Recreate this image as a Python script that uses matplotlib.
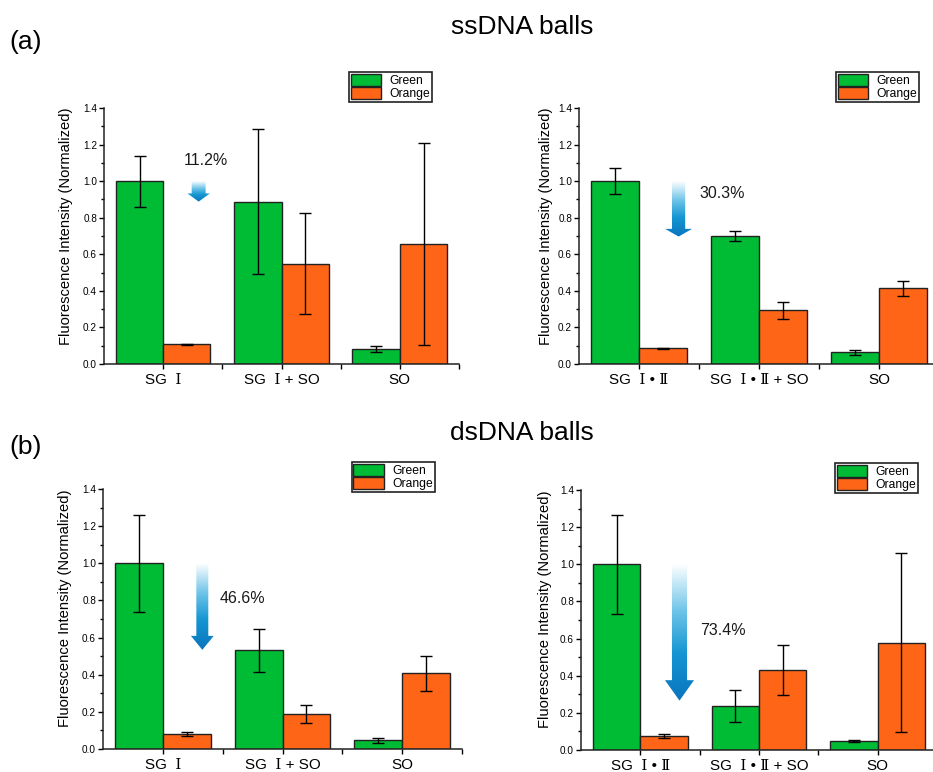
import numpy as np
import matplotlib
matplotlib.use("Agg")
import matplotlib.pyplot as plt
from matplotlib.patches import Polygon
from matplotlib.colors import LinearSegmentedColormap
from matplotlib.ticker import MultipleLocator, FixedLocator, FormatStrFormatter

plt.rcParams['font.family'] = ['Liberation Sans', 'DejaVu Serif', 'Noto Sans CJK SC']

# ---------------- data ----------------
labels_single = ["SG  Ⅰ", "SG  Ⅰ + SO", "SO"]
labels_double = ["SG  Ⅰ • Ⅱ", "SG  Ⅰ • Ⅱ + SO", "SO"]
series_names = ["Green", "Orange"]

ss_single_green = [1.0, 0.887, 0.082]
ss_single_green_err = [0.14, 0.396, 0.015]
ss_single_orange = [0.107, 0.548, 0.657]
ss_single_orange_err = [0.004, 0.277, 0.554]

ss_double_green = [1.0, 0.700, 0.063]
ss_double_green_err = [0.07, 0.027, 0.012]
ss_double_orange = [0.085, 0.293, 0.414]
ss_double_orange_err = [0.002, 0.045, 0.042]

ds_single_green = [1.0, 0.531, 0.047]
ds_single_green_err = [0.26, 0.115, 0.013]
ds_single_orange = [0.081, 0.19, 0.407]
ds_single_orange_err = [0.011, 0.049, 0.096]

ds_double_green = [1.0, 0.237, 0.05]
ds_double_green_err = [0.265, 0.087, 0.006]
ds_double_orange = [0.075, 0.433, 0.578]
ds_double_orange_err = [0.011, 0.135, 0.482]

decrease_pct = [11.2, 30.3, 46.6, 73.4]

GREEN = "#00BB34"
ORANGE = "#FF6516"

# --------------- layout ---------------
W, H = 933, 772
fig = plt.figure(figsize=(W / 100, H / 100), dpi=100)

def px_axes(left, right, top, bottom):
    return fig.add_axes([left / W, 1 - bottom / H, (right - left) / W, (bottom - top) / H])

panels = [
    dict(box=(104, 459, 108, 364), labels=labels_single,
         g=ss_single_green, ge=ss_single_green_err, o=ss_single_orange, oe=ss_single_orange_err,
         pct=decrease_pct[0], arrow=(1.30, 0.118, 0.19, 0.045), txt=(1.36, 1.115, 'center'),
         ylab_x=-0.087, leg=(0.924, 1.14)),
    dict(box=(579, 939, 108, 364), labels=labels_double,
         g=ss_double_green, ge=ss_double_green_err, o=ss_double_orange, oe=ss_double_orange_err,
         pct=decrease_pct[1], arrow=(1.33, 0.11, 0.225, 0.042), txt=(1.50, 0.935, 'left'),
         ylab_x=-0.072, leg=(0.945, 1.14)),
    dict(box=(103, 462, 489, 749), labels=labels_single,
         g=ds_single_green, ge=ds_single_green_err, o=ds_single_orange, oe=ds_single_orange_err,
         pct=decrease_pct[2], arrow=(1.33, 0.10, 0.19, 0.075), txt=(1.475, 0.813, 'left'),
         ylab_x=-0.086, leg=(0.924, 1.105)),
    dict(box=(581, 937, 490, 750), labels=labels_double,
         g=ds_double_green, ge=ds_double_green_err, o=ds_double_orange, oe=ds_double_orange_err,
         pct=decrease_pct[3], arrow=(1.33, 0.127, 0.245, 0.11), txt=(1.50, 0.646, 'left'),
         ylab_x=-0.081, leg=(0.947, 1.105)),
]

cmap = LinearSegmentedColormap.from_list(
    "arr", [(0.0, "#0A74BE"), (0.35, "#1596D2"), (0.65, "#6CC3E8"), (1.0, "#FFFFFF")])

def gradient_arrow(ax, x, y_top, y_tip, shaft_w, head_w, head_len):
    yb = y_tip + head_len
    verts = [(x - shaft_w / 2, y_top), (x + shaft_w / 2, y_top), (x + shaft_w / 2, yb),
             (x + head_w / 2, yb), (x, y_tip), (x - head_w / 2, yb), (x - shaft_w / 2, yb)]
    poly = Polygon(verts, closed=True, facecolor='none', edgecolor='none', transform=ax.transData)
    ax.add_patch(poly)
    grad = np.linspace(0, 1, 256).reshape(-1, 1)
    im = ax.imshow(grad, cmap=cmap, origin='lower', aspect='auto', zorder=4,
                   extent=(x - head_w / 2, x + head_w / 2, y_tip, y_top), interpolation='bilinear')
    im.set_clip_path(poly)

bar_w = 0.4
err_kw = dict(ecolor='black', elinewidth=1.0, capthick=1.0)

for p in panels:
    l, r, t, b = p['box']
    ax = px_axes(l, r, t, b)
    x = np.arange(1, len(p['labels']) + 1)
    ax.bar(x - bar_w / 2, p['g'], bar_w, yerr=p['ge'], color=GREEN, edgecolor='#222222',
           linewidth=1.0, capsize=4, error_kw=err_kw, label=series_names[0], zorder=2)
    ax.bar(x + bar_w / 2, p['o'], bar_w, yerr=p['oe'], color=ORANGE, edgecolor='#222222',
           linewidth=1.0, capsize=4, error_kw=err_kw, label=series_names[1], zorder=2)

    ax_x, sw, hw, hl = p['arrow']
    gradient_arrow(ax, ax_x, 1.0, 1.0 - p['pct'] / 100.0, sw, hw, hl)
    tx, ty, ha = p['txt']
    ax.text(tx, ty, f"{p['pct']}%", ha=ha, va='center', fontsize=11.5, color='#1a1a1a')

    ax.set_xlim(0.5, 3.5)
    ax.set_ylim(0, 1.4)
    for s in ['top', 'right']:
        ax.spines[s].set_visible(False)
    for s in ['left', 'bottom']:
        ax.spines[s].set_linewidth(1.1)
        ax.spines[s].set_color('#222222')
    ax.yaxis.set_major_locator(MultipleLocator(0.2))
    ax.yaxis.set_minor_locator(MultipleLocator(0.1))
    ax.yaxis.set_major_formatter(FormatStrFormatter('%.1f'))
    ax.set_xticks(x)
    ax.set_xticklabels(p['labels'], fontsize=11)
    ax.xaxis.set_minor_locator(FixedLocator([1.5, 2.5, 3.5]))
    ax.tick_params(axis='y', which='major', direction='out', length=3.5, width=1, labelsize=7.2, pad=1.5)
    ax.tick_params(axis='y', which='minor', direction='out', length=2, width=1)
    ax.tick_params(axis='x', which='both', direction='out', length=3.5, width=1, pad=3)
    ax.set_ylabel("Fluorescence Intensity (Normalized)", fontsize=10.6)
    ax.yaxis.set_label_coords(p['ylab_x'], 0.54)

    leg = ax.legend(loc='upper right', bbox_to_anchor=p['leg'], fontsize=8.7, frameon=True,
                    fancybox=False, edgecolor='#222222', framealpha=1, borderpad=0.15,
                    labelspacing=0.0, handlelength=2.5, handleheight=1.15, handletextpad=0.7,
                    borderaxespad=0)
    leg.get_frame().set_linewidth(1.2)
    ax.set_xlim(0.5, 3.5)
    ax.set_ylim(0, 1.4)

fig.text(522 / W, 1 - 27 / H, "ssDNA balls", ha='center', va='center', fontsize=19)
fig.text(9 / W, 1 - 42 / H, "(a)", ha='left', va='center', fontsize=19)
fig.text(522 / W, 1 - 433 / H, "dsDNA balls", ha='center', va='center', fontsize=19)
fig.text(9 / W, 1 - 447 / H, "(b)", ha='left', va='center', fontsize=19)

fig.savefig("out.png", dpi=100)
